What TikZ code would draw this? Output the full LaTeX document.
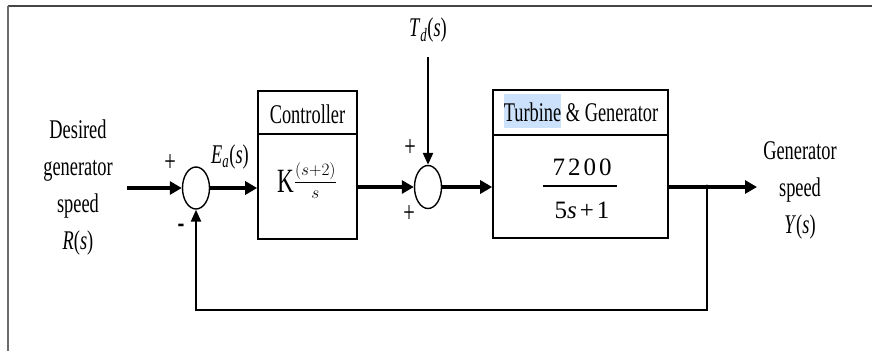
\documentclass[tikz,border=0pt]{standalone}
\usepackage{fontspec}
\setmainfont[FakeStretch=0.68]{Liberation Serif}
\newfontfamily\numfont[LetterSpace=12]{Liberation Serif}
\usetikzlibrary{shapes.geometric,arrows.meta}
\definecolor{hilite}{RGB}{204,226,252}
\definecolor{framegray}{RGB}{70,70,70}
\tikzset{
  sumnode/.style={ellipse,draw,line width=1.4pt,minimum width=27pt,minimum height=42pt,inner sep=0pt},
  blockbox/.style={rectangle,draw,line width=1.6pt,inner sep=0pt},
  sig/.style={line width=3.5pt,-{Triangle[length=12pt,width=13pt]}},
  fb/.style={line width=2.4pt,-{Triangle[length=12pt,width=10pt]}},
  lbl/.style={inner sep=0pt,font=\fontsize{27}{37}\selectfont,align=center},
  sgn/.style={inner sep=0pt,font=\fontsize{30}{30}\selectfont},
  numtxt/.style={inner sep=0pt,anchor=base,font=\fontsize{25}{25}\numfont}
}
\begin{document}
\begin{tikzpicture}[x=1pt,y=-1pt]
\useasboundingbox (0,0) rectangle (872,351);
% frame
\draw[framegray,line width=1.6pt] (8,6) -- (872,6);
\draw[framegray!80,line width=1.2pt] (8,6) -- (8,351);

% blocks
\node[blockbox,minimum width=99pt,minimum height=43pt] (ctrlT) at (307.5,112.5) {};
\node[blockbox,minimum width=99pt,minimum height=105pt] (ctrlB) at (307.5,186.5) {};
\node[lbl] (ctrlL) at (307.5,114) {Controller};
\node[inner sep=0pt,anchor=base] (ctrlF) at (307,192) {{\fontsize{34}{34}\selectfont K}\raisebox{5pt}{\fontsize{18}{18}\selectfont$\displaystyle\frac{(s{+}2)}{s}$}};

\node[blockbox,minimum width=175pt,minimum height=45pt] (turbT) at (580.5,112.5) {};
\node[blockbox,minimum width=175pt,minimum height=103pt] (turbB) at (580.5,186.5) {};
\node[inner sep=0pt,anchor=base,font=\fontsize{27}{27}\selectfont] (turbL) at (581,121) {\setlength{\fboxsep}{0pt}\colorbox{hilite}{\rule[-7pt]{0pt}{34pt}Turbine} \& Generator};
\node[numtxt] (tnum) at (582,175) {7200};
\node[numtxt] (tden) at (582,218) {5\textit{s}+1};
\draw[line width=1.6pt] (543,186) -- (617,186);

% summing junctions
\node[sumnode] (s1) at (196,188) {};
\node[sumnode,minimum height=43pt] (s2) at (428,187) {};

% coordinates
\coordinate (rin) at (127,188);
\coordinate (tdtop) at (428,57);
\coordinate (branch) at (707,187);
\coordinate (yout) at (757,187);
\coordinate (fbc) at (707,310);

% signals
\draw[sig] (rin) -- (s1.west);
\draw[sig] (s1.east) -- (s1.east -| ctrlB.west);
\draw[sig] (ctrlB.east |- s2.west) -- (s2.west);
\draw[sig] (s2.east) -- (s2.east -| turbB.west);
\draw[line width=2.4pt,-{Triangle[length=12pt,width=10pt]}] (tdtop) -- (s2.north);
\draw[sig] (turbB.east |- yout) -- (yout);
\draw[fb] (branch) -- (fbc) -| (s1.south);
\fill (branch) circle (2.4pt);

% labels
\node[lbl] (rlab) at (78,188) {Desired\\generator\\speed\\\textit{R}(\textit{s})};
\node[lbl] (ylab) at (800,190) {Generator\\speed\\\textit{Y}(\textit{s})};
\node[lbl] (ealab) at (230,157) {\textit{E}\textsubscript{\textit{a}}(\textit{s})};
\node[lbl] (tdlab) at (428,30) {\textit{T}\textsubscript{\textit{d}}(\textit{s})};
\node[sgn] (p1) at (170,163) {+};
\node[sgn,font=\fontsize{30}{30}\selectfont\bfseries] (m1) at (181,228) {-};
\node[sgn] (p2) at (410,148) {+};
\node[sgn] (p3) at (409,214) {+};
\end{tikzpicture}
\end{document}
